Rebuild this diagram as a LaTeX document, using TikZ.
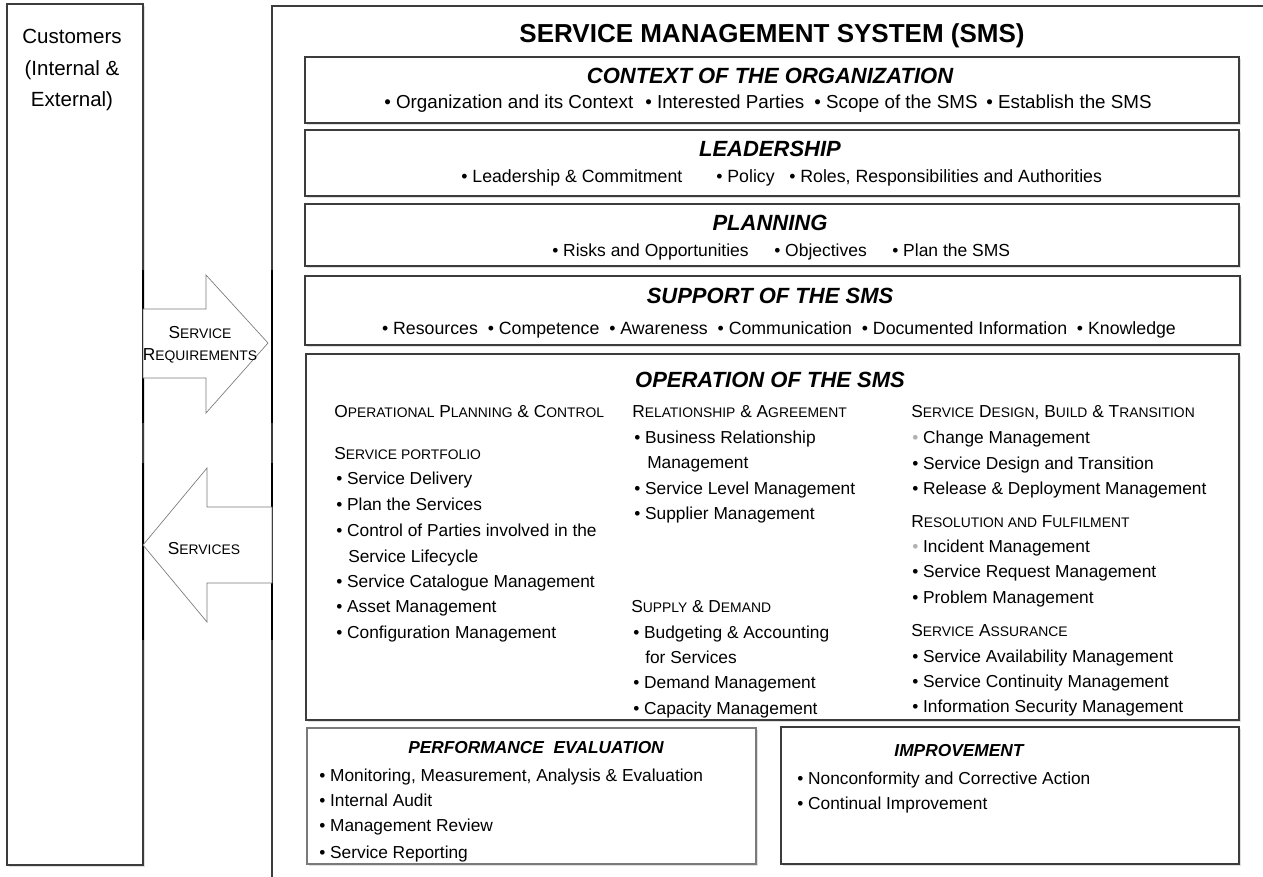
\documentclass[tikz,border=0pt]{standalone}
\usepackage{fontspec}
\setmainfont{Liberation Sans}
\usetikzlibrary{shadows}
\definecolor{edge}{HTML}{3C3C3C}
\definecolor{softedge}{HTML}{7A7A7A}
\newcommand\fbody{\fontsize{13}{15.6}\selectfont}
\newcommand\fsmall{\fontsize{10.4}{12}\selectfont}
\newcommand\fhead{\fontsize{16.5}{19}\selectfont\bfseries\itshape}
\newcommand\sm[1]{{\fsmall #1}}
\newcommand\gb{{\color{gray!60}\textbullet}}
\tikzset{
  box/.style={draw=edge, line width=0.9pt, fill=white,
    drop shadow={shadow xshift=1.3pt, shadow yshift=-1.3pt, opacity=0.25, fill=black!50}},
  softbox/.style={box, draw=softedge},
  outerbox/.style={draw=edge, line width=0.9pt, fill=white},
  arrowshape/.style={draw=softedge, line width=0.5pt, fill=white},
  txt/.style={inner sep=0pt, anchor=base west, font=\fbody},
  ctxt/.style={inner sep=0pt, anchor=base, font=\fbody},
  ctxitem/.style={inner sep=0pt, anchor=base west, font=\fontsize{14.1}{17}\selectfont},
  topitem/.style={inner sep=0pt, anchor=base west, font=\fontsize{13.3}{16}\selectfont},
  toptxt/.style={inner sep=0pt, anchor=base, font=\fontsize{13.3}{16}\selectfont},
  heading/.style={inner sep=0pt, anchor=base, font=\fhead},
  smallhead/.style={inner sep=0pt, anchor=base, font=\fontsize{13}{15}\selectfont\bfseries\itshape},
  darkseg/.style={draw=black, line width=1.2pt},
}
\begin{document}
\begin{tikzpicture}[x=0.75pt,y=-0.75pt]
\useasboundingbox (0,0) rectangle (1263,876);
\clip (0,0) rectangle (1263,876);

% outer SMS frame and customers column
\draw[outerbox] (272,6) rectangle (1300,900);
\draw[box] (7,4) rectangle (143,865);

% inner boxes
\draw[box] (305,57) rectangle (1239,123);
\draw[box] (305,130) rectangle (1239,196);
\draw[box] (305,204) rectangle (1239,266);
\draw[box] (305,276) rectangle (1240,345);
\draw[box] (306,354) rectangle (1239,720);
\draw[softbox] (307,728) rectangle (756,864);
\draw[box] (781,727) rectangle (1239,864);

% darker segments on the column edges
\draw[darkseg] (143,270) -- (143,423);
\draw[darkseg] (143,463) -- (143,640);
\draw[darkseg] (272,270) -- (272,423);
\draw[darkseg] (272,463) -- (272,640);

% arrows
\draw[arrowshape] (143,309) -- (206,309) -- (206,275) -- (268,343) -- (206,413) -- (206,378) -- (143,378) -- cycle;
\draw[arrowshape] (272,507) -- (207,507) -- (207,468) -- (143,545) -- (207,622) -- (207,583) -- (272,583) -- cycle;
\node[ctxt] (req1) at (200,338) {S\sm{ERVICE}};
\node[ctxt] (req2) at (200,360) {R\sm{EQUIREMENTS}};
\node[ctxt] (srv) at (204,554) {S\sm{ERVICES}};

% customers
\node[inner sep=0pt, anchor=base, font=\fontsize{15.4}{18}\selectfont] (cu1) at (72,43) {Customers};
\node[inner sep=0pt, anchor=base, font=\fontsize{15.4}{18}\selectfont] (cu2) at (72,75) {(Internal \&};
\node[inner sep=0pt, anchor=base, font=\fontsize{15.4}{18}\selectfont] (cu3) at (72,106) {External)};

% title
\node[inner sep=0pt, anchor=base, font=\fontsize{19.5}{22}\selectfont\bfseries] (title) at (772,42) {SERVICE MANAGEMENT SYSTEM (SMS)};

% context
\node[heading] (ctxh) at (770,83) {CONTEXT OF THE ORGANIZATION};
\node[ctxitem] (ctx1) at (384,108) {\textbullet\ Organization and its Context};
\node[ctxitem] (ctx2) at (645,108) {\textbullet\ Interested Parties};
\node[ctxitem] (ctx3) at (814,108) {\textbullet\ Scope of the SMS};
\node[ctxitem] (ctx4) at (986,108) {\textbullet\ Establish the SMS};
% leadership
\node[heading] (ledh) at (770,156) {LEADERSHIP};
\node[topitem] (led1) at (461,182) {\textbullet\ Leadership \& Commitment};
\node[topitem] (led2) at (716,182) {\textbullet\ Policy};
\node[topitem] (led3) at (789,182) {\textbullet\ Roles, Responsibilities and Authorities};
% planning
\node[heading] (plah) at (770,230) {PLANNING};
\node[topitem, font=\fontsize{13.1}{16}\selectfont] (pla1) at (552,256) {\textbullet\ Risks and Opportunities};
\node[topitem, font=\fontsize{13.1}{16}\selectfont] (pla2) at (774,256) {\textbullet\ Objectives};
\node[topitem, font=\fontsize{13.1}{16}\selectfont] (pla3) at (892,256) {\textbullet\ Plan the SMS};
% support
\node[heading] (suph) at (770,303) {SUPPORT OF THE SMS};
\node[toptxt] (supb) at (779,334) {\textbullet\ Resources\ \ \textbullet\ Competence\ \ \textbullet\ Awareness\ \ \textbullet\ Communication\ \ \textbullet\ Documented Information\ \ \textbullet\ Knowledge};

% operation
\node[heading] (oph) at (770,387) {OPERATION OF THE SMS};
% left column
\node[txt] (l0) at (334,417) {O\sm{PERATIONAL} P\sm{LANNING} \& C\sm{ONTROL}};
\node[txt] (l1) at (334,459) {S\sm{ERVICE PORTFOLIO}};
\node[txt] (l2) at (336,484) {\textbullet\ Service Delivery};
\node[txt] (l3) at (336,510) {\textbullet\ Plan the Services};
\node[txt] (l4) at (336,536) {\textbullet\ Control of Parties involved in the};
\node[txt] (l5) at (348,562) {Service Lifecycle};
\node[txt] (l6) at (336,587) {\textbullet\ Service Catalogue Management};
\node[txt] (l7) at (336,612) {\textbullet\ Asset Management};
\node[txt] (l8) at (336,638) {\textbullet\ Configuration Management};
% middle column
\node[txt] (m0) at (632,417) {R\sm{ELATIONSHIP} \& A\sm{GREEMENT}};
\node[txt] (m1) at (634,443) {\textbullet\ Business Relationship};
\node[txt] (m2) at (647,468) {Management};
\node[txt] (m3) at (634,494) {\textbullet\ Service Level Management};
\node[txt] (m4) at (634,519) {\textbullet\ Supplier Management};
\node[txt] (m5) at (631,612) {S\sm{UPPLY} \& D\sm{EMAND}};
\node[txt] (m6) at (633,638) {\textbullet\ Budgeting \& Accounting};
\node[txt] (m7) at (645,663) {for Services};
\node[txt] (m8) at (633,688) {\textbullet\ Demand Management};
\node[txt] (m9) at (633,714) {\textbullet\ Capacity Management};
% right column
\node[txt] (r0) at (911,417) {S\sm{ERVICE} D\sm{ESIGN}, B\sm{UILD} \& T\sm{RANSITION}};
\node[txt] (r1) at (912,443) {\gb\ Change Management};
\node[txt] (r2) at (912,469) {\textbullet\ Service Design and Transition};
\node[txt] (r3) at (912,494) {\textbullet\ Release \& Deployment Management};
\node[txt] (r4) at (911,527) {R\sm{ESOLUTION AND} F\sm{ULFILMENT}};
\node[txt] (r5) at (912,552) {\gb\ Incident Management};
\node[txt] (r6) at (912,577) {\textbullet\ Service Request Management};
\node[txt] (r7) at (912,603) {\textbullet\ Problem Management};
\node[txt] (r8) at (911,636) {S\sm{ERVICE} A\sm{SSURANCE}};
\node[txt] (r9) at (912,662) {\textbullet\ Service Availability Management};
\node[txt] (r10) at (912,687) {\textbullet\ Service Continuity Management};
\node[txt] (r11) at (912,712) {\textbullet\ Information Security Management};

% performance evaluation
\node[smallhead] (peh) at (536,753) {PERFORMANCE\ \ EVALUATION};
\node[txt] (p1) at (319,781) {\textbullet\ Monitoring, Measurement, Analysis \& Evaluation};
\node[txt] (p2) at (319,806) {\textbullet\ Internal Audit};
\node[txt] (p3) at (319,831) {\textbullet\ Management Review};
\node[txt] (p4) at (319,858) {\textbullet\ Service Reporting};

% improvement
\node[smallhead] (imh) at (959,756) {IMPROVEMENT};
\node[txt] (i1) at (797,784) {\textbullet\ Nonconformity and Corrective Action};
\node[txt] (i2) at (797,809) {\textbullet\ Continual Improvement};
\end{tikzpicture}
\end{document}
